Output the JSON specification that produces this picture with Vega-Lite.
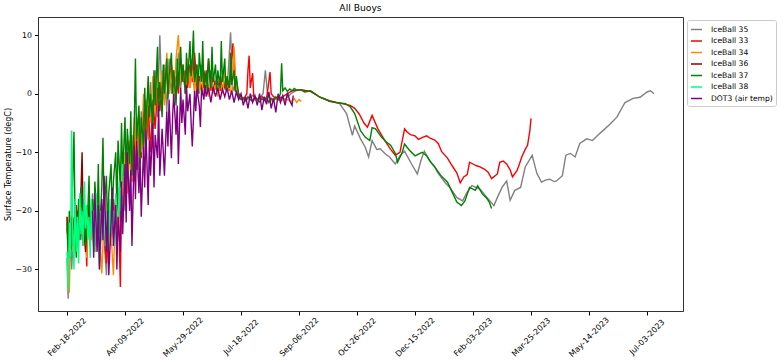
{
"$schema": "https://vega.github.io/schema/vega-lite/v6.json",
"width": 645, "height": 294,
"autosize": {"type": "none"},
"padding": {"left": 38, "top": 17, "right": 101, "bottom": 52},
"background": "white",
"title": {"text": "All Buoys", "fontSize": 9.2, "font": "DejaVu Sans", "fontWeight": "normal", "offset": 4, "color": "black"},
"config": {"view": {"stroke": "#333", "strokeWidth": 1}, "font": "DejaVu Sans"},
"data": {"format": {"parse": {"t": "utc:'%Y-%j'"}}, "values": [
{"s":"IceBall 35","t":"2022-049","v":-28},{"s":"IceBall 35","t":"2022-050","v":-35},{"s":"IceBall 35","t":"2022-051","v":-24},{"s":"IceBall 35","t":"2022-053","v":-30},{"s":"IceBall 35","t":"2022-055","v":-22},{"s":"IceBall 35","t":"2022-057","v":-27},{"s":"IceBall 35","t":"2022-059","v":-20},{"s":"IceBall 35","t":"2022-061","v":-25},{"s":"IceBall 35","t":"2022-063","v":-18},{"s":"IceBall 35","t":"2022-065","v":-24},{"s":"IceBall 35","t":"2022-067","v":-21},{"s":"IceBall 35","t":"2022-069","v":-26},{"s":"IceBall 35","t":"2022-071","v":-17},{"s":"IceBall 35","t":"2022-073","v":-27},{"s":"IceBall 35","t":"2022-075","v":-19},{"s":"IceBall 35","t":"2022-077","v":-30},{"s":"IceBall 35","t":"2022-079","v":-21},{"s":"IceBall 35","t":"2022-081","v":-25},{"s":"IceBall 35","t":"2022-083","v":-31},{"s":"IceBall 35","t":"2022-085","v":-20},{"s":"IceBall 35","t":"2022-087","v":-26},{"s":"IceBall 35","t":"2022-089","v":-18},{"s":"IceBall 35","t":"2022-091","v":-24},{"s":"IceBall 35","t":"2022-093","v":-16},{"s":"IceBall 35","t":"2022-095","v":-22},{"s":"IceBall 35","t":"2022-097","v":-12},{"s":"IceBall 35","t":"2022-099","v":-20},{"s":"IceBall 35","t":"2022-101","v":-9},{"s":"IceBall 35","t":"2022-103","v":-19},{"s":"IceBall 35","t":"2022-105","v":-7},{"s":"IceBall 35","t":"2022-107","v":-15},{"s":"IceBall 35","t":"2022-109","v":-4},{"s":"IceBall 35","t":"2022-111","v":-13},{"s":"IceBall 35","t":"2022-113","v":-3},{"s":"IceBall 35","t":"2022-115","v":-10},{"s":"IceBall 35","t":"2022-117","v":-1},{"s":"IceBall 35","t":"2022-119","v":-8},{"s":"IceBall 35","t":"2022-121","v":2},{"s":"IceBall 35","t":"2022-123","v":-6},{"s":"IceBall 35","t":"2022-125","v":4},{"s":"IceBall 35","t":"2022-127","v":-4},{"s":"IceBall 35","t":"2022-129","v":10},{"s":"IceBall 35","t":"2022-131","v":-2},{"s":"IceBall 35","t":"2022-133","v":5},{"s":"IceBall 35","t":"2022-135","v":-3},{"s":"IceBall 35","t":"2022-137","v":6},{"s":"IceBall 35","t":"2022-139","v":0},{"s":"IceBall 35","t":"2022-141","v":4},{"s":"IceBall 35","t":"2022-143","v":-1},{"s":"IceBall 35","t":"2022-145","v":7},{"s":"IceBall 35","t":"2022-147","v":1},{"s":"IceBall 35","t":"2022-149","v":5},{"s":"IceBall 35","t":"2022-151","v":0},{"s":"IceBall 35","t":"2022-153","v":4},{"s":"IceBall 35","t":"2022-155","v":1},{"s":"IceBall 35","t":"2022-157","v":6},{"s":"IceBall 35","t":"2022-159","v":1},{"s":"IceBall 35","t":"2022-161","v":3},{"s":"IceBall 35","t":"2022-163","v":0},{"s":"IceBall 35","t":"2022-165","v":5},{"s":"IceBall 35","t":"2022-167","v":1},{"s":"IceBall 35","t":"2022-169","v":3},{"s":"IceBall 35","t":"2022-171","v":0.5},{"s":"IceBall 35","t":"2022-173","v":4},{"s":"IceBall 35","t":"2022-175","v":1},{"s":"IceBall 35","t":"2022-177","v":2},{"s":"IceBall 35","t":"2022-179","v":0.5},{"s":"IceBall 35","t":"2022-181","v":3},{"s":"IceBall 35","t":"2022-183","v":1},{"s":"IceBall 35","t":"2022-185","v":2},{"s":"IceBall 35","t":"2022-187","v":0.5},{"s":"IceBall 35","t":"2022-190","v":10.5},{"s":"IceBall 35","t":"2022-192","v":0.5},{"s":"IceBall 35","t":"2022-195","v":2},{"s":"IceBall 35","t":"2022-197","v":0},{"s":"IceBall 35","t":"2022-199","v":-0.5},{"s":"IceBall 35","t":"2022-204","v":-1},{"s":"IceBall 35","t":"2022-209","v":-0.3},{"s":"IceBall 35","t":"2022-214","v":-1},{"s":"IceBall 35","t":"2022-218","v":0},{"s":"IceBall 35","t":"2022-220","v":4},{"s":"IceBall 35","t":"2022-222","v":-0.5},{"s":"IceBall 35","t":"2022-227","v":-1},{"s":"IceBall 35","t":"2022-232","v":-0.5},{"s":"IceBall 35","t":"2022-237","v":-1},{"s":"IceBall 35","t":"2022-242","v":0},{"s":"IceBall 35","t":"2022-246","v":0.5},{"s":"IceBall 35","t":"2022-250","v":0.7},{"s":"IceBall 35","t":"2022-259","v":0.4},{"s":"IceBall 35","t":"2022-267","v":-0.6},{"s":"IceBall 35","t":"2022-275","v":-1.2},{"s":"IceBall 35","t":"2022-284","v":-1.7},{"s":"IceBall 35","t":"2022-290","v":-3.4},{"s":"IceBall 35","t":"2022-295","v":-7.1},{"s":"IceBall 35","t":"2022-297","v":-5.5},{"s":"IceBall 35","t":"2022-302","v":-7.7},{"s":"IceBall 35","t":"2022-306","v":-9.1},{"s":"IceBall 35","t":"2022-309","v":-10.8},{"s":"IceBall 35","t":"2022-312","v":-8},{"s":"IceBall 35","t":"2022-316","v":-9.5},{"s":"IceBall 35","t":"2022-319","v":-9.4},{"s":"IceBall 35","t":"2022-323","v":-10.2},{"s":"IceBall 35","t":"2022-327","v":-10.8},{"s":"IceBall 35","t":"2022-332","v":-12},{"s":"IceBall 35","t":"2022-336","v":-10.6},{"s":"IceBall 35","t":"2022-340","v":-9.8},{"s":"IceBall 35","t":"2022-346","v":-12},{"s":"IceBall 35","t":"2022-351","v":-13.7},{"s":"IceBall 35","t":"2022-354","v":-11.5},{"s":"IceBall 35","t":"2022-357","v":-9.8},{"s":"IceBall 35","t":"2022-362","v":-11.6},{"s":"IceBall 35","t":"2023-001","v":-12.5},{"s":"IceBall 35","t":"2023-003","v":-13.3},{"s":"IceBall 35","t":"2023-007","v":-14.4},{"s":"IceBall 35","t":"2023-010","v":-15.2},{"s":"IceBall 35","t":"2023-014","v":-16},{"s":"IceBall 35","t":"2023-020","v":-17.7},{"s":"IceBall 35","t":"2023-025","v":-18.3},{"s":"IceBall 35","t":"2023-029","v":-16.8},{"s":"IceBall 35","t":"2023-033","v":-15.7},{"s":"IceBall 35","t":"2023-040","v":-16.3},{"s":"IceBall 35","t":"2023-046","v":-17.7},{"s":"IceBall 35","t":"2023-052","v":-19.1},{"s":"IceBall 35","t":"2023-055","v":-17.7},{"s":"IceBall 35","t":"2023-059","v":-16},{"s":"IceBall 35","t":"2023-063","v":-14.9},{"s":"IceBall 35","t":"2023-066","v":-18.2},{"s":"IceBall 35","t":"2023-070","v":-16.5},{"s":"IceBall 35","t":"2023-075","v":-16},{"s":"IceBall 35","t":"2023-079","v":-12.5},{"s":"IceBall 35","t":"2023-082","v":-11.5},{"s":"IceBall 35","t":"2023-085","v":-10.5},{"s":"IceBall 35","t":"2023-089","v":-13.6},{"s":"IceBall 35","t":"2023-093","v":-15.1},{"s":"IceBall 35","t":"2023-097","v":-14.7},{"s":"IceBall 35","t":"2023-100","v":-14.6},{"s":"IceBall 35","t":"2023-104","v":-15},{"s":"IceBall 35","t":"2023-106","v":-14.9},{"s":"IceBall 35","t":"2023-111","v":-14},{"s":"IceBall 35","t":"2023-114","v":-10.5},{"s":"IceBall 35","t":"2023-118","v":-10.2},{"s":"IceBall 35","t":"2023-122","v":-10.8},{"s":"IceBall 35","t":"2023-126","v":-8.5},{"s":"IceBall 35","t":"2023-132","v":-7.7},{"s":"IceBall 35","t":"2023-137","v":-8},{"s":"IceBall 35","t":"2023-142","v":-7},{"s":"IceBall 35","t":"2023-146","v":-6.3},{"s":"IceBall 35","t":"2023-152","v":-5.2},{"s":"IceBall 35","t":"2023-158","v":-4},{"s":"IceBall 35","t":"2023-165","v":-1.5},{"s":"IceBall 35","t":"2023-172","v":-0.8},{"s":"IceBall 35","t":"2023-178","v":-0.6},{"s":"IceBall 35","t":"2023-184","v":0.3},{"s":"IceBall 35","t":"2023-187","v":0.5},{"s":"IceBall 35","t":"2023-190","v":0},
{"s":"IceBall 33","t":"2022-049","v":-23},{"s":"IceBall 33","t":"2022-051","v":-27},{"s":"IceBall 33","t":"2022-053","v":-21},{"s":"IceBall 33","t":"2022-055","v":-25},{"s":"IceBall 33","t":"2022-057","v":-19},{"s":"IceBall 33","t":"2022-059","v":-24},{"s":"IceBall 33","t":"2022-061","v":-20},{"s":"IceBall 33","t":"2022-063","v":-26},{"s":"IceBall 33","t":"2022-065","v":-22},{"s":"IceBall 33","t":"2022-066","v":-29.5},{"s":"IceBall 33","t":"2022-067","v":-20},{"s":"IceBall 33","t":"2022-069","v":-24},{"s":"IceBall 33","t":"2022-071","v":-18},{"s":"IceBall 33","t":"2022-073","v":-25},{"s":"IceBall 33","t":"2022-075","v":-20},{"s":"IceBall 33","t":"2022-077","v":-27},{"s":"IceBall 33","t":"2022-079","v":-19},{"s":"IceBall 33","t":"2022-081","v":-24},{"s":"IceBall 33","t":"2022-083","v":-29},{"s":"IceBall 33","t":"2022-085","v":-21},{"s":"IceBall 33","t":"2022-087","v":-26},{"s":"IceBall 33","t":"2022-089","v":-18},{"s":"IceBall 33","t":"2022-091","v":-23},{"s":"IceBall 33","t":"2022-093","v":-17},{"s":"IceBall 33","t":"2022-095","v":-33},{"s":"IceBall 33","t":"2022-096","v":-16},{"s":"IceBall 33","t":"2022-097","v":-21},{"s":"IceBall 33","t":"2022-099","v":-12},{"s":"IceBall 33","t":"2022-101","v":-17},{"s":"IceBall 33","t":"2022-103","v":-9},{"s":"IceBall 33","t":"2022-105","v":-15},{"s":"IceBall 33","t":"2022-107","v":-7},{"s":"IceBall 33","t":"2022-109","v":-13},{"s":"IceBall 33","t":"2022-111","v":-5},{"s":"IceBall 33","t":"2022-113","v":-11},{"s":"IceBall 33","t":"2022-115","v":-3},{"s":"IceBall 33","t":"2022-117","v":-9},{"s":"IceBall 33","t":"2022-119","v":-2},{"s":"IceBall 33","t":"2022-121","v":-10},{"s":"IceBall 33","t":"2022-123","v":-1},{"s":"IceBall 33","t":"2022-125","v":-6},{"s":"IceBall 33","t":"2022-127","v":1},{"s":"IceBall 33","t":"2022-129","v":-3},{"s":"IceBall 33","t":"2022-131","v":3},{"s":"IceBall 33","t":"2022-133","v":-1},{"s":"IceBall 33","t":"2022-135","v":4},{"s":"IceBall 33","t":"2022-137","v":0},{"s":"IceBall 33","t":"2022-139","v":5},{"s":"IceBall 33","t":"2022-141","v":1},{"s":"IceBall 33","t":"2022-143","v":3},{"s":"IceBall 33","t":"2022-145","v":0},{"s":"IceBall 33","t":"2022-147","v":6},{"s":"IceBall 33","t":"2022-149","v":2},{"s":"IceBall 33","t":"2022-151","v":4},{"s":"IceBall 33","t":"2022-153","v":1},{"s":"IceBall 33","t":"2022-155","v":5},{"s":"IceBall 33","t":"2022-157","v":2},{"s":"IceBall 33","t":"2022-159","v":7},{"s":"IceBall 33","t":"2022-161","v":1},{"s":"IceBall 33","t":"2022-163","v":3},{"s":"IceBall 33","t":"2022-165","v":0.5},{"s":"IceBall 33","t":"2022-167","v":4},{"s":"IceBall 33","t":"2022-169","v":1},{"s":"IceBall 33","t":"2022-171","v":6},{"s":"IceBall 33","t":"2022-173","v":0.5},{"s":"IceBall 33","t":"2022-175","v":3},{"s":"IceBall 33","t":"2022-177","v":1},{"s":"IceBall 33","t":"2022-179","v":2},{"s":"IceBall 33","t":"2022-181","v":0.5},{"s":"IceBall 33","t":"2022-183","v":3},{"s":"IceBall 33","t":"2022-185","v":1},{"s":"IceBall 33","t":"2022-187","v":2},{"s":"IceBall 33","t":"2022-189","v":0.5},{"s":"IceBall 33","t":"2022-192","v":8.6},{"s":"IceBall 33","t":"2022-194","v":0.5},{"s":"IceBall 33","t":"2022-197","v":0},{"s":"IceBall 33","t":"2022-199","v":-0.5},{"s":"IceBall 33","t":"2022-201","v":-1},{"s":"IceBall 33","t":"2022-204","v":0},{"s":"IceBall 33","t":"2022-205","v":4},{"s":"IceBall 33","t":"2022-206","v":6.5},{"s":"IceBall 33","t":"2022-207","v":1},{"s":"IceBall 33","t":"2022-209","v":3.5},{"s":"IceBall 33","t":"2022-210","v":-0.5},{"s":"IceBall 33","t":"2022-213","v":-1},{"s":"IceBall 33","t":"2022-217","v":-0.5},{"s":"IceBall 33","t":"2022-221","v":-1},{"s":"IceBall 33","t":"2022-224","v":3.7},{"s":"IceBall 33","t":"2022-225","v":0},{"s":"IceBall 33","t":"2022-227","v":-0.5},{"s":"IceBall 33","t":"2022-231","v":-1},{"s":"IceBall 33","t":"2022-235","v":-0.5},{"s":"IceBall 33","t":"2022-239","v":0},{"s":"IceBall 33","t":"2022-243","v":0.5},{"s":"IceBall 33","t":"2022-247","v":0.6},{"s":"IceBall 33","t":"2022-250","v":0.7},{"s":"IceBall 33","t":"2022-259","v":0.4},{"s":"IceBall 33","t":"2022-267","v":-0.6},{"s":"IceBall 33","t":"2022-275","v":-1.2},{"s":"IceBall 33","t":"2022-284","v":-1.6},{"s":"IceBall 33","t":"2022-293","v":-2},{"s":"IceBall 33","t":"2022-297","v":-2.5},{"s":"IceBall 33","t":"2022-301","v":-3.5},{"s":"IceBall 33","t":"2022-305","v":-5},{"s":"IceBall 33","t":"2022-308","v":-5.7},{"s":"IceBall 33","t":"2022-312","v":-3.7},{"s":"IceBall 33","t":"2022-317","v":-6},{"s":"IceBall 33","t":"2022-323","v":-8},{"s":"IceBall 33","t":"2022-328","v":-9.5},{"s":"IceBall 33","t":"2022-332","v":-10.5},{"s":"IceBall 33","t":"2022-336","v":-10},{"s":"IceBall 33","t":"2022-340","v":-6},{"s":"IceBall 33","t":"2022-342","v":-6.5},{"s":"IceBall 33","t":"2022-345","v":-7},{"s":"IceBall 33","t":"2022-349","v":-7.2},{"s":"IceBall 33","t":"2022-352","v":-7.8},{"s":"IceBall 33","t":"2022-355","v":-7.5},{"s":"IceBall 33","t":"2022-359","v":-7.2},{"s":"IceBall 33","t":"2022-362","v":-7.6},{"s":"IceBall 33","t":"2023-001","v":-7.9},{"s":"IceBall 33","t":"2023-004","v":-8.5},{"s":"IceBall 33","t":"2023-007","v":-9.9},{"s":"IceBall 33","t":"2023-012","v":-11},{"s":"IceBall 33","t":"2023-016","v":-12.3},{"s":"IceBall 33","t":"2023-020","v":-13.5},{"s":"IceBall 33","t":"2023-023","v":-15.2},{"s":"IceBall 33","t":"2023-026","v":-14.2},{"s":"IceBall 33","t":"2023-029","v":-13.8},{"s":"IceBall 33","t":"2023-031","v":-11.7},{"s":"IceBall 33","t":"2023-034","v":-12},{"s":"IceBall 33","t":"2023-037","v":-12.3},{"s":"IceBall 33","t":"2023-040","v":-12.5},{"s":"IceBall 33","t":"2023-044","v":-12.9},{"s":"IceBall 33","t":"2023-047","v":-13.4},{"s":"IceBall 33","t":"2023-050","v":-14.5},{"s":"IceBall 33","t":"2023-055","v":-13.7},{"s":"IceBall 33","t":"2023-057","v":-11.7},{"s":"IceBall 33","t":"2023-060","v":-11.5},{"s":"IceBall 33","t":"2023-063","v":-12},{"s":"IceBall 33","t":"2023-066","v":-13},{"s":"IceBall 33","t":"2023-068","v":-14.2},{"s":"IceBall 33","t":"2023-072","v":-13.1},{"s":"IceBall 33","t":"2023-074","v":-12},{"s":"IceBall 33","t":"2023-076","v":-10.8},{"s":"IceBall 33","t":"2023-079","v":-9.5},{"s":"IceBall 33","t":"2023-081","v":-8.8},{"s":"IceBall 33","t":"2023-083","v":-6.3},{"s":"IceBall 33","t":"2023-084","v":-4.2},
{"s":"IceBall 34","t":"2022-049","v":-21},{"s":"IceBall 34","t":"2022-050","v":-28},{"s":"IceBall 34","t":"2022-051","v":-34},{"s":"IceBall 34","t":"2022-052","v":-24},{"s":"IceBall 34","t":"2022-054","v":-27},{"s":"IceBall 34","t":"2022-056","v":-20},{"s":"IceBall 34","t":"2022-058","v":-25},{"s":"IceBall 34","t":"2022-060","v":-19},{"s":"IceBall 34","t":"2022-062","v":-24},{"s":"IceBall 34","t":"2022-064","v":-21},{"s":"IceBall 34","t":"2022-066","v":-28},{"s":"IceBall 34","t":"2022-068","v":-18},{"s":"IceBall 34","t":"2022-070","v":-25},{"s":"IceBall 34","t":"2022-072","v":-20},{"s":"IceBall 34","t":"2022-074","v":-27},{"s":"IceBall 34","t":"2022-076","v":-19},{"s":"IceBall 34","t":"2022-079","v":-30.7},{"s":"IceBall 34","t":"2022-081","v":-21},{"s":"IceBall 34","t":"2022-083","v":-26},{"s":"IceBall 34","t":"2022-085","v":-18},{"s":"IceBall 34","t":"2022-087","v":-24},{"s":"IceBall 34","t":"2022-089","v":-31},{"s":"IceBall 34","t":"2022-091","v":-19},{"s":"IceBall 34","t":"2022-093","v":-24},{"s":"IceBall 34","t":"2022-095","v":-14},{"s":"IceBall 34","t":"2022-097","v":-21},{"s":"IceBall 34","t":"2022-099","v":-10},{"s":"IceBall 34","t":"2022-101","v":-17},{"s":"IceBall 34","t":"2022-103","v":-8},{"s":"IceBall 34","t":"2022-105","v":-15},{"s":"IceBall 34","t":"2022-107","v":-4},{"s":"IceBall 34","t":"2022-109","v":-12},{"s":"IceBall 34","t":"2022-111","v":-3},{"s":"IceBall 34","t":"2022-113","v":-10},{"s":"IceBall 34","t":"2022-115","v":0},{"s":"IceBall 34","t":"2022-117","v":-8},{"s":"IceBall 34","t":"2022-119","v":2},{"s":"IceBall 34","t":"2022-121","v":-5},{"s":"IceBall 34","t":"2022-123","v":3},{"s":"IceBall 34","t":"2022-125","v":-3},{"s":"IceBall 34","t":"2022-127","v":5},{"s":"IceBall 34","t":"2022-129","v":-1},{"s":"IceBall 34","t":"2022-131","v":4},{"s":"IceBall 34","t":"2022-133","v":-2},{"s":"IceBall 34","t":"2022-135","v":7},{"s":"IceBall 34","t":"2022-137","v":0},{"s":"IceBall 34","t":"2022-139","v":4},{"s":"IceBall 34","t":"2022-141","v":-1},{"s":"IceBall 34","t":"2022-143","v":6},{"s":"IceBall 34","t":"2022-145","v":10},{"s":"IceBall 34","t":"2022-147","v":2},{"s":"IceBall 34","t":"2022-149","v":5},{"s":"IceBall 34","t":"2022-151","v":0},{"s":"IceBall 34","t":"2022-153","v":6},{"s":"IceBall 34","t":"2022-155","v":1},{"s":"IceBall 34","t":"2022-157","v":4},{"s":"IceBall 34","t":"2022-159","v":0},{"s":"IceBall 34","t":"2022-161","v":5},{"s":"IceBall 34","t":"2022-163","v":0.5},{"s":"IceBall 34","t":"2022-165","v":3},{"s":"IceBall 34","t":"2022-167","v":0},{"s":"IceBall 34","t":"2022-169","v":2},{"s":"IceBall 34","t":"2022-171","v":-0.5},{"s":"IceBall 34","t":"2022-173","v":3},{"s":"IceBall 34","t":"2022-175","v":0},{"s":"IceBall 34","t":"2022-177","v":1.5},{"s":"IceBall 34","t":"2022-179","v":-0.5},{"s":"IceBall 34","t":"2022-181","v":2},{"s":"IceBall 34","t":"2022-183","v":0},{"s":"IceBall 34","t":"2022-185","v":4},{"s":"IceBall 34","t":"2022-187","v":0.5},{"s":"IceBall 34","t":"2022-189","v":1},{"s":"IceBall 34","t":"2022-191","v":0},{"s":"IceBall 34","t":"2022-193","v":8},{"s":"IceBall 34","t":"2022-195","v":0.5},{"s":"IceBall 34","t":"2022-197","v":-0.5},{"s":"IceBall 34","t":"2022-201","v":-1},{"s":"IceBall 34","t":"2022-205","v":-0.8},{"s":"IceBall 34","t":"2022-209","v":-1.2},{"s":"IceBall 34","t":"2022-214","v":-0.8},{"s":"IceBall 34","t":"2022-219","v":-1},{"s":"IceBall 34","t":"2022-224","v":-1.3},{"s":"IceBall 34","t":"2022-229","v":-0.9},{"s":"IceBall 34","t":"2022-234","v":-1.1},{"s":"IceBall 34","t":"2022-239","v":-1},{"s":"IceBall 34","t":"2022-243","v":-1.3},{"s":"IceBall 34","t":"2022-245","v":-0.8},{"s":"IceBall 34","t":"2022-247","v":-1.5},{"s":"IceBall 34","t":"2022-249","v":-1},{"s":"IceBall 34","t":"2022-251","v":-1.3},
{"s":"IceBall 36","t":"2022-049","v":-21},{"s":"IceBall 36","t":"2022-050","v":-26},{"s":"IceBall 36","t":"2022-051","v":-22},{"s":"IceBall 36","t":"2022-052","v":-28},{"s":"IceBall 36","t":"2022-054","v":-21},{"s":"IceBall 36","t":"2022-056","v":-25},{"s":"IceBall 36","t":"2022-058","v":-20},{"s":"IceBall 36","t":"2022-060","v":-24},{"s":"IceBall 36","t":"2022-062","v":-10},{"s":"IceBall 36","t":"2022-063","v":-22},{"s":"IceBall 36","t":"2022-065","v":-27},{"s":"IceBall 36","t":"2022-067","v":-19},{"s":"IceBall 36","t":"2022-069","v":-23},{"s":"IceBall 36","t":"2022-071","v":-21},{"s":"IceBall 36","t":"2022-073","v":-26},{"s":"IceBall 36","t":"2022-074","v":-20},
{"s":"IceBall 37","t":"2022-049","v":-22},{"s":"IceBall 37","t":"2022-050","v":-28},{"s":"IceBall 37","t":"2022-051","v":-20},{"s":"IceBall 37","t":"2022-053","v":-26},{"s":"IceBall 37","t":"2022-054","v":-14},{"s":"IceBall 37","t":"2022-055","v":-6.5},{"s":"IceBall 37","t":"2022-056","v":-22},{"s":"IceBall 37","t":"2022-057","v":-28},{"s":"IceBall 37","t":"2022-059","v":-18},{"s":"IceBall 37","t":"2022-060","v":-25},{"s":"IceBall 37","t":"2022-061","v":-16},{"s":"IceBall 37","t":"2022-063","v":-23},{"s":"IceBall 37","t":"2022-064","v":-19},{"s":"IceBall 37","t":"2022-065","v":-26},{"s":"IceBall 37","t":"2022-067","v":-20},{"s":"IceBall 37","t":"2022-068","v":-14},{"s":"IceBall 37","t":"2022-069","v":-24},{"s":"IceBall 37","t":"2022-071","v":-18},{"s":"IceBall 37","t":"2022-072","v":-26},{"s":"IceBall 37","t":"2022-073","v":-15},{"s":"IceBall 37","t":"2022-075","v":-22},{"s":"IceBall 37","t":"2022-076","v":-12},{"s":"IceBall 37","t":"2022-077","v":-24},{"s":"IceBall 37","t":"2022-079","v":-16},{"s":"IceBall 37","t":"2022-080","v":-7.5},{"s":"IceBall 37","t":"2022-081","v":-20},{"s":"IceBall 37","t":"2022-083","v":-14},{"s":"IceBall 37","t":"2022-084","v":-24},{"s":"IceBall 37","t":"2022-085","v":-17},{"s":"IceBall 37","t":"2022-087","v":-12},{"s":"IceBall 37","t":"2022-088","v":-22},{"s":"IceBall 37","t":"2022-089","v":-15},{"s":"IceBall 37","t":"2022-091","v":-10},{"s":"IceBall 37","t":"2022-092","v":-20},{"s":"IceBall 37","t":"2022-093","v":-8},{"s":"IceBall 37","t":"2022-095","v":-16},{"s":"IceBall 37","t":"2022-096","v":-5},{"s":"IceBall 37","t":"2022-097","v":-14},{"s":"IceBall 37","t":"2022-099","v":-4},{"s":"IceBall 37","t":"2022-100","v":-15},{"s":"IceBall 37","t":"2022-101","v":-6},{"s":"IceBall 37","t":"2022-103","v":-12},{"s":"IceBall 37","t":"2022-104","v":-3},{"s":"IceBall 37","t":"2022-105","v":-14},{"s":"IceBall 37","t":"2022-107","v":-5},{"s":"IceBall 37","t":"2022-108","v":6},{"s":"IceBall 37","t":"2022-109","v":-8},{"s":"IceBall 37","t":"2022-111","v":-2},{"s":"IceBall 37","t":"2022-112","v":-12},{"s":"IceBall 37","t":"2022-113","v":-4},{"s":"IceBall 37","t":"2022-115","v":-9},{"s":"IceBall 37","t":"2022-116","v":1},{"s":"IceBall 37","t":"2022-117","v":-6},{"s":"IceBall 37","t":"2022-119","v":3},{"s":"IceBall 37","t":"2022-120","v":-4},{"s":"IceBall 37","t":"2022-121","v":0},{"s":"IceBall 37","t":"2022-123","v":-6},{"s":"IceBall 37","t":"2022-124","v":4},{"s":"IceBall 37","t":"2022-125","v":-2},{"s":"IceBall 37","t":"2022-127","v":8},{"s":"IceBall 37","t":"2022-128","v":-3},{"s":"IceBall 37","t":"2022-129","v":2},{"s":"IceBall 37","t":"2022-131","v":-4},{"s":"IceBall 37","t":"2022-132","v":5},{"s":"IceBall 37","t":"2022-133","v":0},{"s":"IceBall 37","t":"2022-135","v":6},{"s":"IceBall 37","t":"2022-136","v":-1},{"s":"IceBall 37","t":"2022-137","v":3},{"s":"IceBall 37","t":"2022-139","v":7},{"s":"IceBall 37","t":"2022-140","v":0},{"s":"IceBall 37","t":"2022-141","v":4},{"s":"IceBall 37","t":"2022-143","v":-2},{"s":"IceBall 37","t":"2022-144","v":6},{"s":"IceBall 37","t":"2022-145","v":1},{"s":"IceBall 37","t":"2022-147","v":8},{"s":"IceBall 37","t":"2022-148","v":2},{"s":"IceBall 37","t":"2022-149","v":5},{"s":"IceBall 37","t":"2022-151","v":0},{"s":"IceBall 37","t":"2022-152","v":7},{"s":"IceBall 37","t":"2022-153","v":2},{"s":"IceBall 37","t":"2022-155","v":9},{"s":"IceBall 37","t":"2022-156","v":3},{"s":"IceBall 37","t":"2022-157","v":6},{"s":"IceBall 37","t":"2022-158","v":10.8},{"s":"IceBall 37","t":"2022-159","v":2},{"s":"IceBall 37","t":"2022-161","v":5},{"s":"IceBall 37","t":"2022-162","v":0},{"s":"IceBall 37","t":"2022-163","v":7},{"s":"IceBall 37","t":"2022-165","v":2},{"s":"IceBall 37","t":"2022-166","v":9},{"s":"IceBall 37","t":"2022-167","v":1},{"s":"IceBall 37","t":"2022-169","v":4},{"s":"IceBall 37","t":"2022-170","v":0},{"s":"IceBall 37","t":"2022-171","v":6},{"s":"IceBall 37","t":"2022-173","v":1},{"s":"IceBall 37","t":"2022-174","v":8},{"s":"IceBall 37","t":"2022-175","v":2},{"s":"IceBall 37","t":"2022-177","v":5},{"s":"IceBall 37","t":"2022-178","v":0.5},{"s":"IceBall 37","t":"2022-179","v":4},{"s":"IceBall 37","t":"2022-181","v":1},{"s":"IceBall 37","t":"2022-182","v":9},{"s":"IceBall 37","t":"2022-183","v":2},{"s":"IceBall 37","t":"2022-185","v":6},{"s":"IceBall 37","t":"2022-186","v":0.5},{"s":"IceBall 37","t":"2022-187","v":3},{"s":"IceBall 37","t":"2022-189","v":1},{"s":"IceBall 37","t":"2022-190","v":7},{"s":"IceBall 37","t":"2022-191","v":1.5},{"s":"IceBall 37","t":"2022-193","v":4},{"s":"IceBall 37","t":"2022-194","v":0.5},{"s":"IceBall 37","t":"2022-195","v":3},{"s":"IceBall 37","t":"2022-197","v":-0.5},{"s":"IceBall 37","t":"2022-199","v":-1},{"s":"IceBall 37","t":"2022-201","v":-0.8},{"s":"IceBall 37","t":"2022-203","v":-1.2},{"s":"IceBall 37","t":"2022-205","v":-0.5},{"s":"IceBall 37","t":"2022-207","v":-1},{"s":"IceBall 37","t":"2022-209","v":-1.3},{"s":"IceBall 37","t":"2022-211","v":-0.6},{"s":"IceBall 37","t":"2022-213","v":-1},{"s":"IceBall 37","t":"2022-215","v":-1.4},{"s":"IceBall 37","t":"2022-217","v":-0.8},{"s":"IceBall 37","t":"2022-219","v":-1.2},{"s":"IceBall 37","t":"2022-221","v":-0.6},{"s":"IceBall 37","t":"2022-223","v":-1.5},{"s":"IceBall 37","t":"2022-225","v":-0.8},{"s":"IceBall 37","t":"2022-227","v":-1.2},{"s":"IceBall 37","t":"2022-229","v":-0.5},{"s":"IceBall 37","t":"2022-231","v":-1},{"s":"IceBall 37","t":"2022-233","v":0},{"s":"IceBall 37","t":"2022-234","v":5.2},{"s":"IceBall 37","t":"2022-235","v":0.5},{"s":"IceBall 37","t":"2022-237","v":1},{"s":"IceBall 37","t":"2022-239","v":0.4},{"s":"IceBall 37","t":"2022-241","v":0.8},{"s":"IceBall 37","t":"2022-243","v":0.5},{"s":"IceBall 37","t":"2022-245","v":0.9},{"s":"IceBall 37","t":"2022-247","v":0.6},{"s":"IceBall 37","t":"2022-250","v":0.7},{"s":"IceBall 37","t":"2022-254","v":0.3},{"s":"IceBall 37","t":"2022-259","v":0.5},{"s":"IceBall 37","t":"2022-263","v":0},{"s":"IceBall 37","t":"2022-267","v":-0.6},{"s":"IceBall 37","t":"2022-271","v":-0.9},{"s":"IceBall 37","t":"2022-275","v":-1.3},{"s":"IceBall 37","t":"2022-281","v":-1.5},{"s":"IceBall 37","t":"2022-289","v":-1.7},{"s":"IceBall 37","t":"2022-293","v":-2.2},{"s":"IceBall 37","t":"2022-297","v":-3.4},{"s":"IceBall 37","t":"2022-302","v":-6.3},{"s":"IceBall 37","t":"2022-306","v":-7.4},{"s":"IceBall 37","t":"2022-310","v":-8},{"s":"IceBall 37","t":"2022-312","v":-5.8},{"s":"IceBall 37","t":"2022-315","v":-6},{"s":"IceBall 37","t":"2022-320","v":-7.4},{"s":"IceBall 37","t":"2022-324","v":-8.2},{"s":"IceBall 37","t":"2022-328","v":-8.8},{"s":"IceBall 37","t":"2022-332","v":-10.2},{"s":"IceBall 37","t":"2022-334","v":-11.7},{"s":"IceBall 37","t":"2022-338","v":-10},{"s":"IceBall 37","t":"2022-340","v":-8.6},{"s":"IceBall 37","t":"2022-344","v":-9.6},{"s":"IceBall 37","t":"2022-349","v":-10.6},{"s":"IceBall 37","t":"2022-355","v":-10},{"s":"IceBall 37","t":"2022-359","v":-10.6},{"s":"IceBall 37","t":"2022-362","v":-11.5},{"s":"IceBall 37","t":"2023-001","v":-12.5},{"s":"IceBall 37","t":"2023-006","v":-13.9},{"s":"IceBall 37","t":"2023-012","v":-15.1},{"s":"IceBall 37","t":"2023-016","v":-16.8},{"s":"IceBall 37","t":"2023-020","v":-18.5},{"s":"IceBall 37","t":"2023-024","v":-19.1},{"s":"IceBall 37","t":"2023-027","v":-18.3},{"s":"IceBall 37","t":"2023-031","v":-16},{"s":"IceBall 37","t":"2023-036","v":-16.5},{"s":"IceBall 37","t":"2023-038","v":-15.7},{"s":"IceBall 37","t":"2023-042","v":-17.1},{"s":"IceBall 37","t":"2023-046","v":-17.9},{"s":"IceBall 37","t":"2023-048","v":-18.5},{"s":"IceBall 37","t":"2023-050","v":-19.6},
{"s":"IceBall 38","t":"2022-049","v":-27},{"s":"IceBall 38","t":"2022-050","v":-33.6},{"s":"IceBall 38","t":"2022-051","v":-22},{"s":"IceBall 38","t":"2022-052","v":-28},{"s":"IceBall 38","t":"2022-053","v":-6.3},{"s":"IceBall 38","t":"2022-054","v":-24},{"s":"IceBall 38","t":"2022-055","v":-30},{"s":"IceBall 38","t":"2022-056","v":-18},{"s":"IceBall 38","t":"2022-057","v":-27},{"s":"IceBall 38","t":"2022-058","v":-21},{"s":"IceBall 38","t":"2022-059","v":-29},{"s":"IceBall 38","t":"2022-060","v":-17},{"s":"IceBall 38","t":"2022-061","v":-24},{"s":"IceBall 38","t":"2022-062","v":-20},{"s":"IceBall 38","t":"2022-063","v":-26},{"s":"IceBall 38","t":"2022-064","v":-15},{"s":"IceBall 38","t":"2022-065","v":-23},{"s":"IceBall 38","t":"2022-066","v":-19},{"s":"IceBall 38","t":"2022-067","v":-25},{"s":"IceBall 38","t":"2022-068","v":-21},{"s":"IceBall 38","t":"2022-069","v":-28},{"s":"IceBall 38","t":"2022-070","v":-18},{"s":"IceBall 38","t":"2022-071","v":-24},{"s":"IceBall 38","t":"2022-072","v":-20},{"s":"IceBall 38","t":"2022-073","v":-27},{"s":"IceBall 38","t":"2022-074","v":-17},{"s":"IceBall 38","t":"2022-075","v":-23},{"s":"IceBall 38","t":"2022-077","v":-29},{"s":"IceBall 38","t":"2022-078","v":-20},{"s":"IceBall 38","t":"2022-079","v":-25},{"s":"IceBall 38","t":"2022-081","v":-19},{"s":"IceBall 38","t":"2022-082","v":-26},{"s":"IceBall 38","t":"2022-083","v":-22},{"s":"IceBall 38","t":"2022-085","v":-27},{"s":"IceBall 38","t":"2022-086","v":-18},{"s":"IceBall 38","t":"2022-087","v":-24},{"s":"IceBall 38","t":"2022-089","v":-20},{"s":"IceBall 38","t":"2022-090","v":-26},{"s":"IceBall 38","t":"2022-091","v":-17},{"s":"IceBall 38","t":"2022-093","v":-23},{"s":"IceBall 38","t":"2022-094","v":-15},{"s":"IceBall 38","t":"2022-095","v":-20},{"s":"IceBall 38","t":"2022-097","v":-12},
{"s":"DOT3 (air temp)","t":"2022-071","v":-20},{"s":"DOT3 (air temp)","t":"2022-072","v":-28},{"s":"DOT3 (air temp)","t":"2022-073","v":-17},{"s":"DOT3 (air temp)","t":"2022-075","v":-27},{"s":"DOT3 (air temp)","t":"2022-076","v":-19},{"s":"DOT3 (air temp)","t":"2022-077","v":-30},{"s":"DOT3 (air temp)","t":"2022-079","v":-18},{"s":"DOT3 (air temp)","t":"2022-080","v":-25},{"s":"DOT3 (air temp)","t":"2022-081","v":-14},{"s":"DOT3 (air temp)","t":"2022-083","v":-27},{"s":"DOT3 (air temp)","t":"2022-084","v":-20},{"s":"DOT3 (air temp)","t":"2022-085","v":-31},{"s":"DOT3 (air temp)","t":"2022-087","v":-22},{"s":"DOT3 (air temp)","t":"2022-088","v":-16},{"s":"DOT3 (air temp)","t":"2022-089","v":-26},{"s":"DOT3 (air temp)","t":"2022-091","v":-19},{"s":"DOT3 (air temp)","t":"2022-092","v":-30},{"s":"DOT3 (air temp)","t":"2022-093","v":-21},{"s":"DOT3 (air temp)","t":"2022-095","v":-27},{"s":"DOT3 (air temp)","t":"2022-096","v":-15},{"s":"DOT3 (air temp)","t":"2022-097","v":-24},{"s":"DOT3 (air temp)","t":"2022-099","v":-12},{"s":"DOT3 (air temp)","t":"2022-100","v":-22},{"s":"DOT3 (air temp)","t":"2022-101","v":-10},{"s":"DOT3 (air temp)","t":"2022-103","v":-20},{"s":"DOT3 (air temp)","t":"2022-104","v":-13},{"s":"DOT3 (air temp)","t":"2022-105","v":-26},{"s":"DOT3 (air temp)","t":"2022-107","v":-9},{"s":"DOT3 (air temp)","t":"2022-108","v":-18},{"s":"DOT3 (air temp)","t":"2022-109","v":-8},{"s":"DOT3 (air temp)","t":"2022-111","v":-17},{"s":"DOT3 (air temp)","t":"2022-112","v":-11},{"s":"DOT3 (air temp)","t":"2022-113","v":-21},{"s":"DOT3 (air temp)","t":"2022-115","v":-9},{"s":"DOT3 (air temp)","t":"2022-116","v":-16},{"s":"DOT3 (air temp)","t":"2022-117","v":-6},{"s":"DOT3 (air temp)","t":"2022-119","v":-19},{"s":"DOT3 (air temp)","t":"2022-120","v":-8},{"s":"DOT3 (air temp)","t":"2022-121","v":-14},{"s":"DOT3 (air temp)","t":"2022-123","v":-5},{"s":"DOT3 (air temp)","t":"2022-124","v":-16},{"s":"DOT3 (air temp)","t":"2022-125","v":-7},{"s":"DOT3 (air temp)","t":"2022-127","v":-11},{"s":"DOT3 (air temp)","t":"2022-128","v":-2},{"s":"DOT3 (air temp)","t":"2022-129","v":-14},{"s":"DOT3 (air temp)","t":"2022-131","v":-6},{"s":"DOT3 (air temp)","t":"2022-132","v":-10},{"s":"DOT3 (air temp)","t":"2022-133","v":-14},{"s":"DOT3 (air temp)","t":"2022-135","v":-3},{"s":"DOT3 (air temp)","t":"2022-136","v":-9},{"s":"DOT3 (air temp)","t":"2022-137","v":-1},{"s":"DOT3 (air temp)","t":"2022-139","v":-11},{"s":"DOT3 (air temp)","t":"2022-140","v":-4},{"s":"DOT3 (air temp)","t":"2022-141","v":0},{"s":"DOT3 (air temp)","t":"2022-143","v":-7},{"s":"DOT3 (air temp)","t":"2022-144","v":-2},{"s":"DOT3 (air temp)","t":"2022-145","v":-12},{"s":"DOT3 (air temp)","t":"2022-147","v":1},{"s":"DOT3 (air temp)","t":"2022-148","v":-5},{"s":"DOT3 (air temp)","t":"2022-149","v":-1},{"s":"DOT3 (air temp)","t":"2022-151","v":-7},{"s":"DOT3 (air temp)","t":"2022-152","v":1.5},{"s":"DOT3 (air temp)","t":"2022-153","v":-3},{"s":"DOT3 (air temp)","t":"2022-155","v":0},{"s":"DOT3 (air temp)","t":"2022-156","v":-5},{"s":"DOT3 (air temp)","t":"2022-157","v":-9},{"s":"DOT3 (air temp)","t":"2022-159","v":0.5},{"s":"DOT3 (air temp)","t":"2022-160","v":-3},{"s":"DOT3 (air temp)","t":"2022-161","v":1},{"s":"DOT3 (air temp)","t":"2022-163","v":-2},{"s":"DOT3 (air temp)","t":"2022-164","v":-5.7},{"s":"DOT3 (air temp)","t":"2022-165","v":1},{"s":"DOT3 (air temp)","t":"2022-167","v":-1},{"s":"DOT3 (air temp)","t":"2022-168","v":1.5},{"s":"DOT3 (air temp)","t":"2022-169","v":-0.5},{"s":"DOT3 (air temp)","t":"2022-171","v":1},{"s":"DOT3 (air temp)","t":"2022-173","v":-1.5},{"s":"DOT3 (air temp)","t":"2022-175","v":1.2},{"s":"DOT3 (air temp)","t":"2022-177","v":-0.5},{"s":"DOT3 (air temp)","t":"2022-179","v":1},{"s":"DOT3 (air temp)","t":"2022-181","v":-1},{"s":"DOT3 (air temp)","t":"2022-183","v":0.8},{"s":"DOT3 (air temp)","t":"2022-185","v":-0.5},{"s":"DOT3 (air temp)","t":"2022-187","v":1},{"s":"DOT3 (air temp)","t":"2022-189","v":-1},{"s":"DOT3 (air temp)","t":"2022-191","v":0.5},{"s":"DOT3 (air temp)","t":"2022-193","v":-1.5},{"s":"DOT3 (air temp)","t":"2022-195","v":0.3},{"s":"DOT3 (air temp)","t":"2022-197","v":-1},{"s":"DOT3 (air temp)","t":"2022-199","v":0},{"s":"DOT3 (air temp)","t":"2022-201","v":-2},{"s":"DOT3 (air temp)","t":"2022-203","v":-0.5},{"s":"DOT3 (air temp)","t":"2022-205","v":-2.5},{"s":"DOT3 (air temp)","t":"2022-207","v":0},{"s":"DOT3 (air temp)","t":"2022-209","v":-1.5},{"s":"DOT3 (air temp)","t":"2022-211","v":-0.3},{"s":"DOT3 (air temp)","t":"2022-213","v":-2},{"s":"DOT3 (air temp)","t":"2022-215","v":0},{"s":"DOT3 (air temp)","t":"2022-217","v":-2.8},{"s":"DOT3 (air temp)","t":"2022-219","v":-0.5},{"s":"DOT3 (air temp)","t":"2022-221","v":-1.8},{"s":"DOT3 (air temp)","t":"2022-223","v":0.3},{"s":"DOT3 (air temp)","t":"2022-225","v":-2.5},{"s":"DOT3 (air temp)","t":"2022-227","v":-0.8},{"s":"DOT3 (air temp)","t":"2022-229","v":-3.2},{"s":"DOT3 (air temp)","t":"2022-231","v":0},{"s":"DOT3 (air temp)","t":"2022-233","v":-1.5},{"s":"DOT3 (air temp)","t":"2022-235","v":-0.3},{"s":"DOT3 (air temp)","t":"2022-237","v":-2},{"s":"DOT3 (air temp)","t":"2022-239","v":0.2},{"s":"DOT3 (air temp)","t":"2022-241","v":-1.2},{"s":"DOT3 (air temp)","t":"2022-243","v":-2},{"s":"DOT3 (air temp)","t":"2022-244","v":-0.3}
]},
"mark": {"type": "line", "strokeWidth": 1.4},
"encoding": {
"x": {"field": "t", "type": "temporal",
 "scale": {"type": "utc", "domain": [{"year": 2022, "month": 1, "date": 24, "utc": true}, {"year": 2023, "month": 8, "date": 3, "utc": true}]},
 "axis": {"title": null, "grid": false, "labelExpr": "utcFormat(datum.value, '%b-%d-%Y')",
  "values": [{"year":2022,"month":2,"date":18,"utc":true},{"year":2022,"month":4,"date":9,"utc":true},{"year":2022,"month":5,"date":29,"utc":true},{"year":2022,"month":7,"date":18,"utc":true},{"year":2022,"month":9,"date":6,"utc":true},{"year":2022,"month":10,"date":26,"utc":true},{"year":2022,"month":12,"date":15,"utc":true},{"year":2023,"month":2,"date":3,"utc":true},{"year":2023,"month":3,"date":25,"utc":true},{"year":2023,"month":5,"date":14,"utc":true},{"year":2023,"month":7,"date":3,"utc":true}],
  "labelAngle": -45, "labelAlign": "center", "labelBaseline": "middle", "labelPadding": 22, "tickSize": 4,
  "labelFontSize": 8, "labelColor": "black", "tickColor": "black", "domainColor": "#333", "labelOverlap": false, "labelBound": false, "labelFlush": false}},
"y": {"field": "v", "type": "quantitative",
 "scale": {"domain": [-37.1, 13.1], "nice": false, "zero": false},
 "axis": {"title": "Surface Temperature (degC)", "titleFontSize": 8, "titleFontWeight": "normal", "titleColor": "black", "titlePadding": 3,
  "values": [-30, -20, -10, 0, 10], "format": "d", "grid": false, "tickSize": 3.5, "labelPadding": 3, "labelFontSize": 7.8, "labelColor": "black", "tickColor": "black", "domainColor": "#333"}},
"color": {"field": "s", "type": "nominal",
 "scale": {"domain": ["IceBall 35", "IceBall 33", "IceBall 34", "IceBall 36", "IceBall 37", "IceBall 38", "DOT3 (air temp)"],
  "range": ["#808080", "#ff0000", "#ff8c00", "#8b0000", "#008000", "#00ff7f", "#800080"]},
 "legend": {"title": null, "orient": "none", "legendX": 649, "legendY": 3, "symbolType": "stroke", "symbolStrokeWidth": 1.5, "symbolSize": 121,
  "labelFontSize": 7.6, "labelColor": "black", "labelOffset": 8, "padding": 3, "rowPadding": 0.5, "strokeColor": "#cccccc", "fillColor": "white", "cornerRadius": 2}}
}
}
